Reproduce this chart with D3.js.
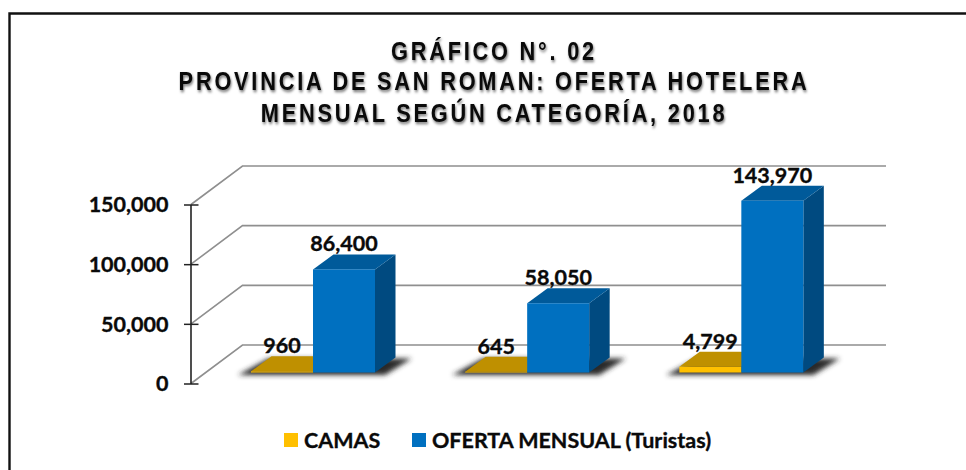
<!DOCTYPE html>
<html><head><meta charset="utf-8">
<script src="https://cdn.jsdelivr.net/npm/d3@7/dist/d3.min.js"></script>
<style>
html,body{margin:0;padding:0;background:#fff;overflow:hidden}
svg{display:block}
.title{font-family:"Liberation Sans",Arial,sans-serif;font-weight:700;font-size:25px;letter-spacing:3.2px;fill:#0a0a0a;text-anchor:middle;filter:drop-shadow(1.5px 2px 1.5px rgba(0,0,0,.55))}
.lab{font-family:Lato,sans-serif;font-weight:700;font-size:21.5px;fill:#0a0a0a;stroke:#0a0a0a;stroke-width:.35px}
</style></head><body>
<svg id="c" width="966" height="470"></svg>
<script>
const titleLines = ["GRÁFICO N°. 02","PROVINCIA DE SAN ROMAN: OFERTA HOTELERA","MENSUAL SEGÚN CATEGORÍA, 2018"];
const categories = ["A","B","C"];
const seriesNames = ["CAMAS","OFERTA MENSUAL (Turistas)"];
const camas = [960,645,4799];
const oferta = [86400,58050,143970];
const yTicks = [0,50000,100000,150000];
const seriesColors = [
  {front:"#FFC000",top:"#BF9000",side:"#A67C00"},
  {front:"#0070C0",top:"#005A9A",side:"#004A80"}
];

const svg = d3.select("#c");
const fmt = d3.format(",");

svg.append("path").attr("d","M9.5,470V13.5H966").attr("fill","none").attr("stroke","#111").attr("stroke-width",2.4);

svg.selectAll("text.title").data(titleLines).join("text").attr("class","title")
  .attr("transform",(d,i)=>`translate(494,${[59.5,90,121.5][i]}) scale(.87,1)`).text(d=>d);

const defs = svg.append("defs");
const blurF = defs.append("filter").attr("id","blur").attr("x","-20%").attr("y","-60%").attr("width","140%").attr("height","220%");
blurF.append("feGaussianBlur").attr("stdDeviation",2.8);

const y = d3.scaleLinear().domain([0,150000]).range([383.5,204.5]);
const x0 = d3.scaleBand().domain(categories).range([251,893.5]);
const x1 = d3.scaleBand().domain(seriesNames).range([0,124]);
const backDx = 52, backDy = -38.5, backRight = 886;
const floor = -11, dx = 20.5, dy = -15;

// back grid and side wall lines
const grid = svg.append("g").attr("stroke","#8f8f8f").attr("stroke-width",1.6).attr("fill","none");
grid.selectAll("path").data(yTicks).join("path")
  .attr("d",d=>`M191,${y(d)}L${191+backDx-0.5},${y(d)+backDy}H${backRight}`);

// axis
const axis = svg.append("g").attr("transform","translate(190.5,0)")
  .call(d3.axisLeft(y).tickValues(yTicks).tickSize(0).tickPadding(22).tickFormat(fmt));
axis.select(".domain").attr("stroke","#222").attr("stroke-width",1.6);
axis.selectAll("text").attr("class","lab").attr("font-family",null).attr("font-size",null).attr("dy","0.34em");
axis.selectAll(".tick").append("line").attr("x1",-6.5).attr("x2",8).attr("stroke","#222").attr("stroke-width",1.5);

const groupRows = categories.map((c,i)=>({c,i,a:camas[i],b:oferta[i]}));

// floor shadows
svg.append("g").selectAll("path").data(groupRows).join("path")
  .attr("filter","url(#blur)").attr("fill","#2a2a2a")
  .attr("d",r=>{
    const l=x0(r.c), rr=l+x1.bandwidth()*2, base=y(0)+floor;
    return `M${l-13},${base+2.5}L${l+dx-3},${base+dy+1}H${rr+dx+16}L${rr+10},${base+2.5}Z`;
  });

// bars
const bars = svg.append("g");
groupRows.forEach(r=>{
  [r.a,r.b].forEach((v,si)=>{
    const l=x0(r.c)+x1(seriesNames[si]), w=x1.bandwidth(), b=y(0)+floor, t=y(v)+floor, col=seriesColors[si];
    const g=bars.append("g");
    g.append("path").attr("fill",col.side).attr("d",`M${l+w},${t}L${l+w+dx},${t+dy}V${b+dy}L${l+w},${b}Z`);
    g.append("path").attr("fill",col.top).attr("d",`M${l},${t}L${l+dx},${t+dy}H${l+w+dx}L${l+w},${t}Z`);
    g.append("rect").attr("x",l).attr("y",t).attr("width",w).attr("height",b-t).attr("fill",col.front);
    svg.append("text").attr("class","lab").attr("text-anchor","middle")
      .attr("x",l+w/2).attr("y",t+dy-3).text(fmt(v));
  });
});
// labels go on top of every bar
svg.selectAll("text.lab").raise();

// legend
const legendPos = [{s:284,t:304},{s:412,t:432}];
const lg = svg.append("g");
seriesNames.forEach((n,i)=>{
  lg.append("rect").attr("x",legendPos[i].s).attr("y",433).attr("width",14).attr("height",14).attr("fill",seriesColors[i].front);
  lg.append("text").attr("class","lab").attr("x",legendPos[i].t).attr("y",447.5).text(n);
});
</script></body></html>
